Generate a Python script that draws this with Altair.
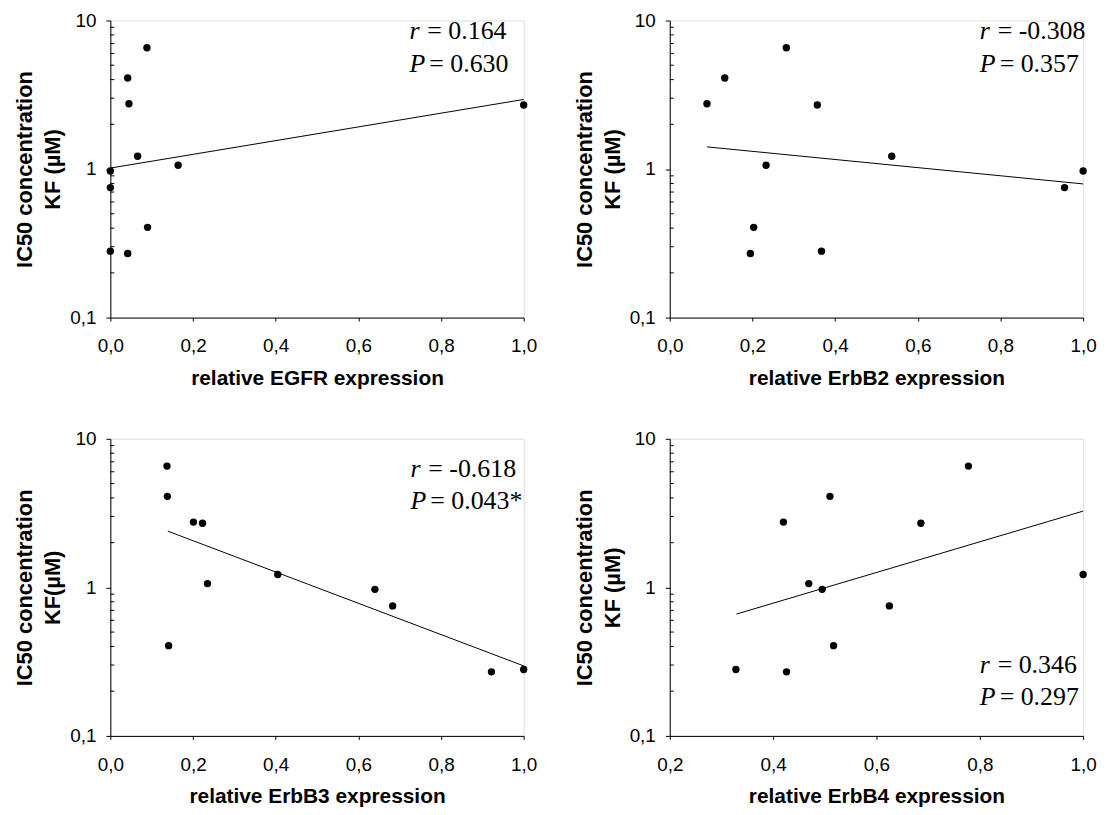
import altair as alt
import pandas as pd

# IC50 concentration KF (µM) of the 11 cell lines (same order in each panel)
ic50 = [6.55, 4.1, 2.75, 2.7, 1.22, 1.06, 0.97, 0.75, 0.405, 0.28, 0.27]

# relative receptor expression, per panel
egfr = [0.0885, 0.042, 0.045, 1.0, 0.066, 0.164, 0.0, 0.0, 0.090, 0.0, 0.042]
erbb2 = [0.282, 0.133, 0.090, 0.357, 0.537, 0.233, 1.0, 0.955, 0.203, 0.367, 0.195]
erbb3 = [0.137, 0.138, 0.201, 0.223, 0.405, 0.235, 0.640, 0.683, 0.141, 1.0, 0.922]
erbb4 = [0.778, 0.510, 0.420, 0.686, 1.0, 0.469, 0.495, 0.625, 0.517, 0.328, 0.426]

# trend line end points (x, y) per panel
trend_egfr_x, trend_egfr_y = [0.0, 1.0], [1.015, 2.94]
trend_erbb2_x, trend_erbb2_y = [0.090, 1.0], [1.41, 0.794]
trend_erbb3_x, trend_erbb3_y = [0.139, 1.0], [2.39, 0.296]
trend_erbb4_x, trend_erbb4_y = [0.329, 1.0], [0.661, 3.26]

x_titles = ["relative EGFR expression", "relative ErbB2 expression",
            "relative ErbB3 expression", "relative ErbB4 expression"]
y_titles = [["IC50 concentration", "KF (µM)"], ["IC50 concentration", "KF (µM)"],
            ["IC50 concentration", "KF(µM)"], ["IC50 concentration", "KF (µM)"]]
r_texts = ["= 0.164", "= -0.308", "= -0.618", "= 0.346"]
p_texts = ["= 0.630", "= 0.357", "= 0.043*", "= 0.297"]
x_domains = [[0.0, 1.0], [0.0, 1.0], [0.0, 1.0], [0.2, 1.0]]
x_ticks = [[0, 0.2, 0.4, 0.6, 0.8, 1.0]] * 3 + [[0.2, 0.4, 0.6, 0.8, 1.0]]

y_major = [0.1, 1, 10]
y_minor = [0.2, 0.3, 0.4, 0.5, 0.6, 0.7, 0.8, 0.9, 2, 3, 4, 5, 6, 7, 8, 9]

# annotation placement (plot-area pixels): left x, baseline of r line, baseline of P line
ann_pos = [(301, 19, 52), (312, 19, 52), (302, 38, 71), (312, 236, 268)]

W, H = 416, 299
SANS = "Liberation Sans"
SERIF = "Liberation Serif"


def panel(i, xs, tx, ty):
    df = pd.DataFrame({"x": xs, "y": ic50})
    tdf = pd.DataFrame({"x": tx, "y": ty})
    mdf = pd.DataFrame({"y": y_minor})

    xscale = alt.Scale(domain=x_domains[i], nice=False, zero=False)
    yscale = alt.Scale(type="log", domain=[0.1, 10], nice=False)
    xaxis = alt.Axis(
        values=x_ticks[i],
        labelExpr="replace(format(datum.value, '.1f'), '.', ',')",
        title=x_titles[i], titleFont=SANS, titleFontSize=21, titleFontWeight="bold",
        titleColor="black", titlePadding=12,
        labelFont=SANS, labelFontSize=19, labelColor="black", labelPadding=16,
        labelFlush=False, labelOverlap=False,
        tickSize=3.5, tickColor="black", domainColor="black", grid=False,
    )
    yaxis = alt.Axis(
        values=y_major,
        labelExpr="datum.value < 0.5 ? '0,1' : (datum.value < 5 ? '1' : '10')",
        title=y_titles[i], titleFont=SANS, titleFontSize=22, titleFontWeight="bold",
        titleColor="black", titlePadding=5, titleLineHeight=28,
        labelFont=SANS, labelFontSize=19, labelColor="black", labelPadding=10,
        labelFlush=False, labelOverlap=False,
        tickSize=4.5, tickColor="black", domainColor="black", grid=False,
    )
    X = alt.X("x:Q", scale=xscale, axis=xaxis)
    Y = alt.Y("y:Q", scale=yscale, axis=yaxis)

    minor = alt.Chart(mdf).mark_rule(color="black", strokeWidth=1).encode(
        y=Y, x=alt.value(0), x2=alt.value(4))
    trend = alt.Chart(tdf).mark_line(color="black", strokeWidth=1).encode(x=X, y=Y)
    pts = alt.Chart(df).mark_circle(size=55, color="black", opacity=1).encode(x=X, y=Y)

    lx, b1, b2 = ann_pos[i]
    one = pd.DataFrame({"k": [0]})
    texts = []
    for sym, val, base, off in (("r", r_texts[i], b1, 18), ("P", p_texts[i], b2, 20)):
        texts.append(alt.Chart(one).mark_text(
            font=SERIF, fontSize=26, fontStyle="italic", align="left",
            baseline="alphabetic", color="black", text=sym,
        ).encode(x=alt.value(lx), y=alt.value(base)))
        texts.append(alt.Chart(one).mark_text(
            font=SERIF, fontSize=26, align="left",
            baseline="alphabetic", color="black", text=val,
        ).encode(x=alt.value(lx + off), y=alt.value(base)))

    return alt.layer(minor, trend, pts, *texts).properties(width=W, height=H)


p1 = panel(0, egfr, trend_egfr_x, trend_egfr_y)
p2 = panel(1, erbb2, trend_erbb2_x, trend_erbb2_y)
p3 = panel(2, erbb3, trend_erbb3_x, trend_erbb3_y)
p4 = panel(3, erbb4, trend_erbb4_x, trend_erbb4_y)

chart = alt.vconcat(
    alt.hconcat(p1, p2, spacing=35),
    alt.hconcat(p3, p4, spacing=35),
    spacing=40,
).configure_view(stroke=None).configure(background="white").properties(
    padding={"left": 5, "top": 0, "right": 5, "bottom": 0}
)

chart.save("out.html", embed_options={"renderer": "svg", "actions": False})
